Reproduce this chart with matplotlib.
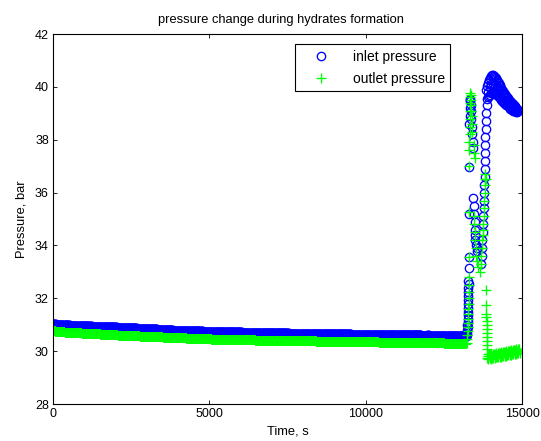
import numpy as np
import matplotlib
matplotlib.use("Agg")
import matplotlib.pyplot as plt

plt.rcParams['font.family'] = ['Liberation Sans', 'DejaVu Sans']

# ---------------- data ----------------
# flat region, sampled every 50 s from 0 to 13200 s
flat_time = list(range(0, 13201, 50))

inlet_flat = [
    31.02, 31.01, 31.00, 31.00, 31.00, 30.99, 30.99, 30.99, 30.98, 30.98, 30.98, 30.97, 30.97, 30.97, 30.96, 30.96, 30.96, 30.96, 30.95, 30.95,
    30.95, 30.95, 30.94, 30.94, 30.94, 30.93, 30.93, 30.93, 30.92, 30.92, 30.92, 30.92, 30.91, 30.91, 30.91, 30.90, 30.90, 30.90, 30.90, 30.90,
    30.90, 30.89, 30.89, 30.89, 30.88, 30.88, 30.88, 30.87, 30.87, 30.87, 30.87, 30.86, 30.86, 30.86, 30.85, 30.85, 30.85, 30.84, 30.84, 30.84,
    30.84, 30.83, 30.83, 30.83, 30.82, 30.82, 30.82, 30.81, 30.81, 30.81, 30.81, 30.80, 30.80, 30.80, 30.79, 30.79, 30.79, 30.78, 30.78, 30.78,
    30.78, 30.78, 30.77, 30.77, 30.77, 30.77, 30.76, 30.76, 30.76, 30.76, 30.76, 30.75, 30.75, 30.75, 30.75, 30.75, 30.74, 30.74, 30.74, 30.74,
    30.74, 30.74, 30.73, 30.73, 30.73, 30.73, 30.73, 30.72, 30.72, 30.72, 30.72, 30.72, 30.72, 30.71, 30.71, 30.71, 30.71, 30.71, 30.71, 30.71,
    30.71, 30.70, 30.70, 30.70, 30.70, 30.70, 30.70, 30.69, 30.69, 30.69, 30.69, 30.69, 30.69, 30.69, 30.68, 30.68, 30.68, 30.68, 30.68, 30.68,
    30.68, 30.68, 30.68, 30.67, 30.67, 30.67, 30.67, 30.67, 30.67, 30.67, 30.67, 30.66, 30.66, 30.66, 30.66, 30.66, 30.66, 30.66, 30.66, 30.66,
    30.66, 30.66, 30.65, 30.65, 30.65, 30.65, 30.65, 30.65, 30.65, 30.65, 30.64, 30.64, 30.64, 30.64, 30.64, 30.64, 30.64, 30.64, 30.64, 30.64,
    30.64, 30.64, 30.63, 30.63, 30.63, 30.63, 30.63, 30.63, 30.63, 30.63, 30.63, 30.62, 30.62, 30.62, 30.62, 30.62, 30.62, 30.62, 30.62, 30.62,
    30.62, 30.62, 30.62, 30.61, 30.61, 30.61, 30.61, 30.61, 30.61, 30.61, 30.61, 30.61, 30.61, 30.61, 30.61, 30.61, 30.60, 30.60, 30.60, 30.60,
    30.61, 30.60, 30.60, 30.60, 30.60, 30.60, 30.60, 30.60, 30.60, 30.60, 30.60, 30.60, 30.60, 30.60, 30.60, 30.60, 30.59, 30.59, 30.59, 30.59,
    30.60, 30.59, 30.59, 30.59, 30.59, 30.59, 30.59, 30.59, 30.59, 30.59, 30.59, 30.59, 30.59, 30.58, 30.58, 30.58, 30.58, 30.58, 30.58, 30.58,
    30.58, 30.58, 30.58, 30.58, 30.58]

outlet_flat = [
    30.80, 30.76, 30.74, 30.73, 30.72, 30.72, 30.71, 30.71, 30.70, 30.70, 30.70, 30.69, 30.69, 30.68, 30.68, 30.68, 30.67, 30.67, 30.67, 30.66,
    30.66, 30.66, 30.65, 30.65, 30.65, 30.64, 30.64, 30.64, 30.63, 30.63, 30.63, 30.62, 30.62, 30.62, 30.61, 30.61, 30.61, 30.61, 30.60, 30.60,
    30.60, 30.60, 30.59, 30.59, 30.59, 30.58, 30.58, 30.58, 30.58, 30.57, 30.57, 30.57, 30.56, 30.56, 30.56, 30.56, 30.55, 30.55, 30.55, 30.55,
    30.55, 30.54, 30.54, 30.54, 30.53, 30.53, 30.53, 30.52, 30.52, 30.52, 30.52, 30.51, 30.51, 30.51, 30.50, 30.50, 30.50, 30.50, 30.49, 30.49,
    30.49, 30.49, 30.48, 30.48, 30.48, 30.48, 30.47, 30.47, 30.47, 30.47, 30.46, 30.46, 30.46, 30.46, 30.46, 30.45, 30.45, 30.45, 30.45, 30.45,
    30.45, 30.45, 30.44, 30.44, 30.44, 30.44, 30.44, 30.43, 30.43, 30.43, 30.43, 30.43, 30.43, 30.42, 30.42, 30.42, 30.42, 30.42, 30.42, 30.42,
    30.42, 30.42, 30.41, 30.41, 30.41, 30.41, 30.41, 30.41, 30.41, 30.41, 30.40, 30.40, 30.40, 30.40, 30.40, 30.40, 30.40, 30.40, 30.40, 30.40,
    30.40, 30.39, 30.39, 30.39, 30.39, 30.39, 30.39, 30.39, 30.39, 30.38, 30.38, 30.38, 30.38, 30.38, 30.38, 30.38, 30.38, 30.38, 30.38, 30.38,
    30.38, 30.37, 30.37, 30.37, 30.37, 30.37, 30.37, 30.37, 30.37, 30.36, 30.36, 30.36, 30.36, 30.36, 30.36, 30.36, 30.36, 30.36, 30.36, 30.36,
    30.36, 30.35, 30.35, 30.35, 30.35, 30.35, 30.35, 30.35, 30.35, 30.34, 30.34, 30.34, 30.34, 30.34, 30.34, 30.34, 30.34, 30.34, 30.34, 30.34,
    30.34, 30.33, 30.33, 30.33, 30.33, 30.33, 30.33, 30.33, 30.33, 30.32, 30.32, 30.32, 30.32, 30.32, 30.32, 30.32, 30.32, 30.32, 30.32, 30.32,
    30.32, 30.31, 30.31, 30.31, 30.31, 30.31, 30.31, 30.31, 30.31, 30.30, 30.30, 30.30, 30.30, 30.30, 30.30, 30.30, 30.30, 30.30, 30.30, 30.30,
    30.30, 30.29, 30.29, 30.29, 30.29, 30.29, 30.29, 30.29, 30.29, 30.29, 30.29, 30.28, 30.28, 30.28, 30.28, 30.28, 30.28, 30.28, 30.28, 30.28,
    30.28, 30.28, 30.28, 30.28, 30.28]

# spike region, inlet: rise columns
inlet_rise_time = [
    13240, 13250, 13245, 13260, 13255, 13265, 13260, 13270, 13265, 13275,
    13270, 13280, 13275, 13285, 13280, 13290, 13285,
    13300, 13305, 13300, 13305,
    13310, 13320, 13320, 13330, 13340, 13350, 13360, 13370, 13380, 13390,
    13400, 13420, 13440,
    13440, 13460, 13470, 13480, 13490, 13500, 13510, 13530, 13550, 13570,
    13700, 13710, 13720, 13730, 13740, 13750, 13760, 13770, 13780, 13790,
    13795, 13800, 13805, 13810, 13815, 13820, 13830, 13840, 13850, 13860,
    13870]
inlet_rise = [
    30.60, 30.70, 30.80, 30.90, 31.00, 31.10, 31.20, 31.35, 31.50, 31.65,
    31.80, 31.95, 32.10, 32.25, 32.40, 32.55, 32.65,
    33.15, 33.55, 35.20, 36.95,
    38.60, 38.90, 39.20, 39.45, 39.55, 39.50, 39.30, 39.10, 38.80, 38.50,
    38.20, 37.90, 37.70,
    35.80, 35.50, 35.20, 34.90, 34.60, 34.40, 34.20, 34.00, 33.90, 33.80,
    33.30, 33.60, 33.90, 34.20, 34.50, 34.80, 35.10, 35.40, 35.70, 36.00,
    36.30, 36.60, 36.90, 37.20, 37.50, 37.80, 38.10, 38.40, 38.70, 39.00,
    39.30]

# spike region, inlet: peak band (upper, middle, lower edges)
inlet_peak_upper_time = list(range(13860, 14881, 30))
inlet_peak_upper = [
    39.90, 40.02, 40.15, 40.25, 40.35, 40.41, 40.45, 40.45, 40.42, 40.37,
    40.32, 40.26, 40.20, 40.14, 40.08, 40.02, 39.96, 39.90, 39.84, 39.78,
    39.72, 39.67, 39.62, 39.57, 39.52, 39.47, 39.43, 39.38, 39.34, 39.30,
    39.26, 39.22, 39.19, 39.15, 39.12]
inlet_peak_mid_time = list(range(13900, 14861, 60))
inlet_peak_mid = [
    39.80, 40.00, 40.10, 40.12, 40.08, 39.98, 39.88, 39.78, 39.68, 39.58,
    39.50, 39.42, 39.34, 39.27, 39.20, 39.14, 39.09]
inlet_peak_lower_time = list(range(13880, 14841, 30))
inlet_peak_lower = [
    39.55, 39.60, 39.65, 39.70, 39.75, 39.79, 39.82, 39.82, 39.80, 39.76,
    39.72, 39.68, 39.64, 39.60, 39.56, 39.52, 39.48, 39.44, 39.40, 39.37,
    39.33, 39.30, 39.26, 39.23, 39.20, 39.18, 39.15, 39.13, 39.10, 39.09,
    39.07, 39.06, 39.05]

# spike region, outlet: rise columns and drop
outlet_rise_time = [
    13245, 13250, 13255, 13260, 13262, 13268, 13272, 13278, 13282, 13288,
    13292, 13298, 13302, 13308,
    13300, 13305, 13310,
    13310, 13315, 13320, 13325, 13330, 13335, 13340, 13345, 13350, 13355,
    13360, 13370, 13380, 13390, 13400, 13410,
    13460, 13470, 13480,
    13450, 13470, 13480, 13500, 13520, 13540, 13560, 13580,
    13660, 13680, 13700, 13720, 13730, 13740, 13750, 13760, 13770, 13780,
    13790, 13800, 13810, 13820, 13830, 13840,
    13850, 13855, 13860, 13862, 13865, 13868, 13870, 13872, 13875, 13878,
    13880, 13885]
outlet_rise = [
    30.30, 30.45, 30.60, 30.75, 30.90, 31.05, 31.20, 31.40, 31.60, 31.80,
    32.00, 32.25, 32.50, 32.80,
    33.55, 35.25, 37.00,
    37.60, 37.90, 38.20, 38.50, 38.80, 39.10, 39.40, 39.60, 39.75, 39.70,
    39.50, 39.30, 39.10, 38.90, 38.60, 38.30,
    37.80, 37.50, 37.30,
    35.10, 34.80, 34.50, 34.20, 33.90, 33.60, 33.40, 33.20,
    33.00, 33.30, 33.60, 33.90, 34.20, 34.40, 34.60, 34.80, 35.10, 35.40,
    35.70, 36.00, 36.30, 36.50, 36.70, 36.50,
    32.30, 31.75, 31.40, 31.30, 31.15, 31.00, 30.85, 30.70, 30.55, 30.40,
    30.25, 30.10]

# spike region, outlet: low band after the drop
outlet_low_a_time = list(range(13880, 14921, 40))
outlet_low_a = [
    29.74, 29.72, 29.73, 29.72, 29.74, 29.74, 29.75, 29.76, 29.76, 29.77,
    29.78, 29.79, 29.80, 29.81, 29.82, 29.83, 29.84, 29.85, 29.86, 29.87,
    29.88, 29.89, 29.90, 29.91, 29.92, 29.93, 29.94]
outlet_low_b_time = list(range(13900, 14901, 40))
outlet_low_b = [
    29.90, 29.88, 29.89, 29.88, 29.90, 29.90, 29.91, 29.92, 29.92, 29.93,
    29.94, 29.95, 29.96, 29.97, 29.98, 29.99, 30.00, 30.01, 30.02, 30.03,
    30.04, 30.05, 30.06, 30.07, 30.08, 30.09]
outlet_low_c_time = list(range(13920, 14881, 40))
outlet_low_c = [
    29.82, 29.80, 29.81, 29.82, 29.83, 29.84, 29.85, 29.85, 29.86, 29.87,
    29.88, 29.89, 29.90, 29.91, 29.92, 29.93, 29.94, 29.95, 29.96, 29.97,
    29.98, 29.99, 30.00, 30.01, 30.02]

x_ticks = [0, 5000, 10000, 15000]
y_ticks = [28, 30, 32, 34, 36, 38, 40, 42]

# ---------------- plot ----------------
inlet_sp_t = (inlet_rise_time + inlet_peak_upper_time
              + inlet_peak_mid_time + inlet_peak_lower_time)
inlet_sp_p = inlet_rise + inlet_peak_upper + inlet_peak_mid + inlet_peak_lower
outlet_sp_t = outlet_rise_time + outlet_low_a_time + outlet_low_b_time + outlet_low_c_time
outlet_sp_p = outlet_rise + outlet_low_a + outlet_low_b + outlet_low_c

blue = (0, 0, 1)
green = (0, 1, 0)

fig = plt.figure(figsize=(5.41, 4.41), dpi=100)
ax = fig.add_axes([0.098, 0.0839, 0.867, 0.839])

# dense flat part (heavier edge so the overlapping markers read as a solid band)
ax.plot(flat_time, inlet_flat, linestyle='none', marker='o', markersize=6,
        markerfacecolor='none', markeredgecolor=blue, markeredgewidth=1.5)
ax.plot(inlet_sp_t, inlet_sp_p, linestyle='none', marker='o', markersize=6,
        markerfacecolor='none', markeredgecolor=blue,
        markeredgewidth=0.95, label='inlet pressure')
ax.plot(flat_time, outlet_flat, linestyle='none', marker='+', markersize=7,
        color=green, markeredgewidth=1.4)
ax.plot(outlet_sp_t, outlet_sp_p, linestyle='none', marker='+', markersize=7,
        color=green, markeredgewidth=0.95, label='outlet pressure')

ax.set_xlim(0, 15000)
ax.set_ylim(28, 42)
ax.set_xticks(x_ticks)
ax.set_yticks(y_ticks)
ax.tick_params(direction='in', length=3, width=0.6, top=True, right=True,
               labelsize=9, pad=3)
for s in ax.spines.values():
    s.set_linewidth(0.8)

ax.set_title('pressure change during hydrates formation', fontsize=9.3,
             pad=8, x=0.485)
ax.set_xlabel('Time, s', fontsize=9.3, labelpad=4)
ax.set_ylabel('Pressure, bar', fontsize=9.3, labelpad=5)

leg = ax.legend(loc='upper left', bbox_to_anchor=(0.516, 0.973),
                fancybox=False, edgecolor='black', framealpha=1,
                fontsize=10, borderpad=0.4, handlelength=3.0,
                handletextpad=0.75, labelspacing=0.6, borderaxespad=0)
leg.get_frame().set_linewidth(0.8)

fig.savefig('out.png', dpi=100)
